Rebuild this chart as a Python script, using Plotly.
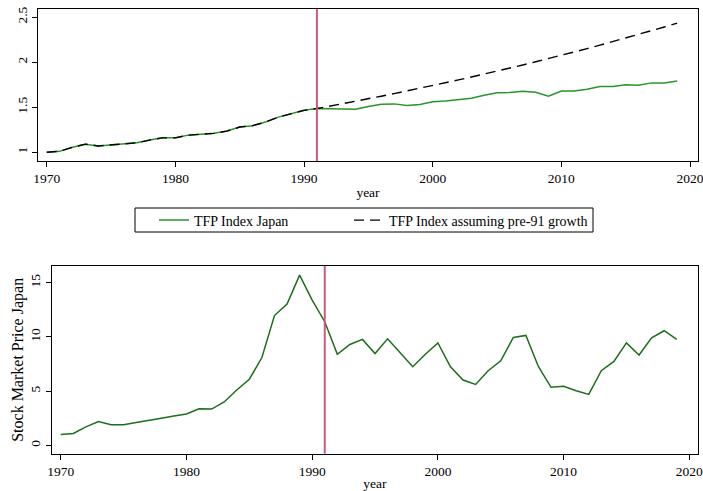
import plotly.graph_objects as go

years = list(range(1970, 2020))

tfp_japan = [1.00, 1.01, 1.055, 1.09, 1.07, 1.08, 1.09, 1.105, 1.135, 1.16,
             1.16, 1.19, 1.20, 1.21, 1.235, 1.28, 1.295, 1.335, 1.39, 1.43,
             1.465, 1.485, 1.48, 1.478, 1.478, 1.507, 1.533, 1.537, 1.52, 1.53,
             1.56, 1.57, 1.585, 1.60, 1.633, 1.66, 1.663, 1.678, 1.667, 1.622,
             1.68, 1.68, 1.70, 1.73, 1.73, 1.748, 1.745, 1.77, 1.77, 1.79]

tfp_pre91 = [1.00, 1.01, 1.055, 1.09, 1.07, 1.08, 1.09, 1.105, 1.135, 1.16,
             1.16, 1.19, 1.20, 1.21, 1.235, 1.28, 1.295, 1.335, 1.39, 1.43,
             1.465, 1.485, 1.511, 1.538, 1.566, 1.594, 1.622, 1.651, 1.680, 1.710,
             1.740, 1.771, 1.803, 1.835, 1.867, 1.901, 1.934, 1.969, 2.004, 2.039,
             2.076, 2.113, 2.150, 2.189, 2.228, 2.267, 2.308, 2.349, 2.390, 2.433]

stock_price = [1.0, 1.1, 1.7, 2.2, 1.9, 1.9, 2.1, 2.27, 2.5, 2.7,
               2.9, 3.37, 3.35, 4.0, 5.1, 6.1, 8.1, 11.97, 13.04, 15.7,
               13.4, 11.4, 8.4, 9.3, 9.77, 8.47, 9.82, 8.53, 7.25, 8.4,
               9.45, 7.25, 6.02, 5.62, 6.88, 7.8, 9.95, 10.14, 7.25, 5.35,
               5.44, 5.04, 4.7, 6.88, 7.74, 9.45, 8.33, 9.92, 10.57, 9.77]

x_ticks = [1970, 1980, 1990, 2000, 2010, 2020]
tfp_ticks = [1, 1.5, 2, 2.5]
tfp_tick_labels = ["1", "1.5", "2", "2.5"]
stock_ticks = [0, 5, 10, 15]
break_year = 1991

W, H = 703, 491
FONT = "Liberation Serif"
TF = dict(family=FONT, size=13.5, color="black")
LF = dict(family=FONT, size=14, color="black")
YTF = dict(family=FONT, size=16, color="black")

fig = go.Figure()
fig.add_trace(go.Scatter(x=years, y=tfp_japan, mode="lines", name="TFP Index Japan",
                         line=dict(color="#2a942a", width=1.5), xaxis="x", yaxis="y",
                         legend="legend"))
fig.add_trace(go.Scatter(x=years, y=tfp_pre91, mode="lines", name="TFP Index assuming pre-91 growth",
                         line=dict(color="black", width=1.4, dash="10px,6px"), xaxis="x", yaxis="y",
                         legend="legend2"))
fig.add_trace(go.Scatter(x=years, y=stock_price, mode="lines", showlegend=False,
                         line=dict(color="#1c6e1c", width=1.5), xaxis="x2", yaxis="y2"))

axis_common = dict(showline=True, mirror=True, linecolor="black", linewidth=1,
                   ticks="outside", ticklen=5, tickcolor="black", showgrid=False,
                   zeroline=False, automargin=False, ticklabeloverflow="allow",
                   tickfont=TF)

legend_common = dict(orientation="h", xanchor="left", yanchor="middle", y=1 - 220.5 / H,
                     bgcolor="rgba(0,0,0,0)", borderwidth=0, font=LF)

fig.update_layout(
    width=W, height=H,
    margin=dict(l=0, r=0, t=0, b=0, autoexpand=False),
    paper_bgcolor="white", plot_bgcolor="white",
    font=TF,
    xaxis=dict(domain=[38 / W, 698 / W], anchor="y", range=[1969.32, 2020.62],
               tickvals=x_ticks, title=dict(text="year", standoff=2, font=TF), **axis_common),
    yaxis=dict(domain=[1 - 161 / H, 1 - 9 / H], anchor="x", range=[0.903, 2.59],
               tickvals=tfp_ticks, ticktext=tfp_tick_labels, tickangle=-90, **axis_common),
    xaxis2=dict(domain=[51.7 / W, 698 / W], anchor="y2", range=[1969.28, 2020.69],
                tickvals=x_ticks, title=dict(text="year", standoff=0, font=TF), **axis_common),
    yaxis2=dict(domain=[1 - 453.7 / H, 1 - 266 / H], anchor="x2", range=[-0.77, 16.54],
                tickvals=stock_ticks, tickangle=-90,
                title=dict(text="Stock Market Price Japan", standoff=0, font=YTF), **axis_common),
    legend=dict(x=154 / W, **legend_common),
    legend2=dict(x=349 / W, **legend_common),
    shapes=[
        dict(type="line", xref="x", yref="y domain", x0=break_year, x1=break_year, y0=0, y1=1,
             line=dict(color="#d2587a", width=2)),
        dict(type="line", xref="x2", yref="y2 domain", x0=break_year, x1=break_year, y0=0, y1=1,
             line=dict(color="#d2587a", width=2)),
        dict(type="rect", xref="paper", yref="paper", x0=135 / W, x1=593 / W,
             y0=1 - 232 / H, y1=1 - 208 / H, line=dict(color="black", width=1),
             fillcolor="rgba(0,0,0,0)", layer="below"),
    ],
)

fig.write_html("out.html", config={"displayModeBar": False},
               post_script="document.body.style.margin='0';document.body.style.overflow='hidden';")
